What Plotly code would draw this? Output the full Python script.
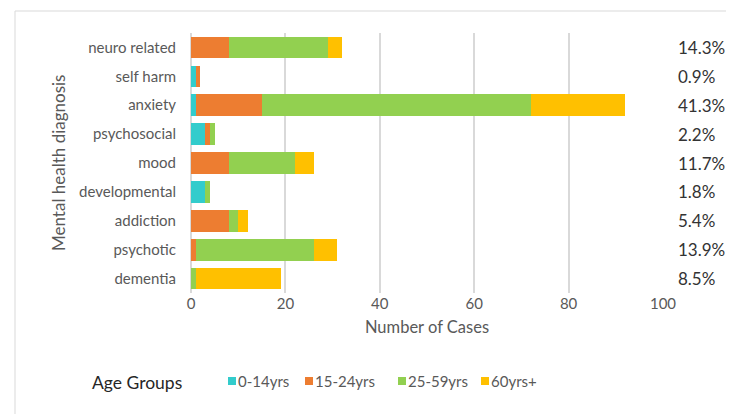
import plotly.graph_objects as go

categories = ["neuro related", "self harm", "anxiety", "psychosocial", "mood",
              "developmental", "addiction", "psychotic", "dementia"]
age_0_14 = [0, 1, 1, 3, 0, 3, 0, 0, 0]
age_15_24 = [8, 1, 14, 1, 8, 0, 8, 1, 0]
age_25_59 = [21, 0, 57, 1, 14, 1, 2, 25, 1]
age_60_plus = [3, 0, 20, 0, 4, 0, 2, 5, 18]
pct_labels = ["14.3%", "0.9%", "41.3%", "2.2%", "11.7%", "1.8%", "5.4%", "13.9%", "8.5%"]
series_names = ["0-14yrs", "15-24yrs", "25-59yrs", "60yrs+"]
colors = ["#33CCCC", "#ED7D31", "#92D050", "#FFC000"]

FONT = "Lato, Open Sans, sans-serif"
OFF = 8  # page body margin
W, H = 734 - OFF, 414 - OFF
L, T = 191 - OFF, 33 - OFF
R = W - (663 - OFF)
B = H - (293 - OFF)
PW, PH = W - L - R, H - T - B


def px(xw):
    return (xw - OFF - L) / PW


def py(yw):
    return (H - B - (yw - OFF)) / PH


fig = go.Figure()
for name, vals, col in zip(series_names, [age_0_14, age_15_24, age_25_59, age_60_plus], colors):
    fig.add_trace(go.Bar(y=categories, x=vals, name=name, orientation="h",
                         marker=dict(color=col, line=dict(width=0)), showlegend=False))

for cat, lab in zip(categories, pct_labels):
    fig.add_annotation(x=1, xref="paper", y=cat, yref="y", text=lab, showarrow=False,
                       xanchor="left", xshift=13, font=dict(family=FONT, size=17, color="#333333"))

fig.add_annotation(x=px(58), xref="paper", y=py(163), yref="paper", text="Mental health diagnosis",
                   textangle=-90, showarrow=False, xanchor="center", yanchor="middle",
                   font=dict(family=FONT, size=17, color="#595959"))
fig.add_annotation(x=px(137), xref="paper", y=py(382), yref="paper", text="Age Groups",
                   showarrow=False, xanchor="center", yanchor="middle",
                   font=dict(family=FONT, size=17.5, color="#262626"))

# legend (swatches + labels)
legend_x = [228, 305, 398, 481]
for name, col, lx in zip(series_names, colors, legend_x):
    fig.add_shape(type="rect", xref="paper", yref="paper", x0=px(lx), x1=px(lx + 8),
                  y0=py(385), y1=py(377), fillcolor=col, line=dict(width=0))
    fig.add_annotation(x=px(lx + 8), xref="paper", y=py(381), yref="paper", text=name,
                       showarrow=False, xanchor="left", yanchor="middle",
                       font=dict(family=FONT, size=15, color="#595959"))

# outer border
fig.add_shape(type="line", xref="paper", yref="paper", x0=px(15), x1=px(760), y0=py(11), y1=py(11),
              line=dict(color="#d9d9d9", width=1))
fig.add_shape(type="line", xref="paper", yref="paper", x0=px(15), x1=px(15), y0=py(11), y1=py(440),
              line=dict(color="#d9d9d9", width=1))

fig.update_layout(
    width=W, height=H, barmode="stack", bargap=0.25,
    margin=dict(l=L, r=R, t=T, b=B),
    plot_bgcolor="white", paper_bgcolor="white",
    font=dict(family=FONT, color="#595959", size=14),
    xaxis=dict(range=[0, 100], dtick=20, showgrid=True, gridcolor="#d9d9d9", gridwidth=1.5,
               zeroline=True, zerolinecolor="#d9d9d9", zerolinewidth=1.5, showline=False,
               tickfont=dict(family=FONT, size=15, color="#595959"),
               title=dict(text="Number of Cases", font=dict(family=FONT, size=16.5, color="#595959"),
                          standoff=10)),
    yaxis=dict(autorange="reversed", showgrid=False, zeroline=False, showline=False,
               ticklabelstandoff=14, tickfont=dict(family=FONT, size=15, color="#595959")),
    showlegend=False,
)

fig.write_html("out.html")
